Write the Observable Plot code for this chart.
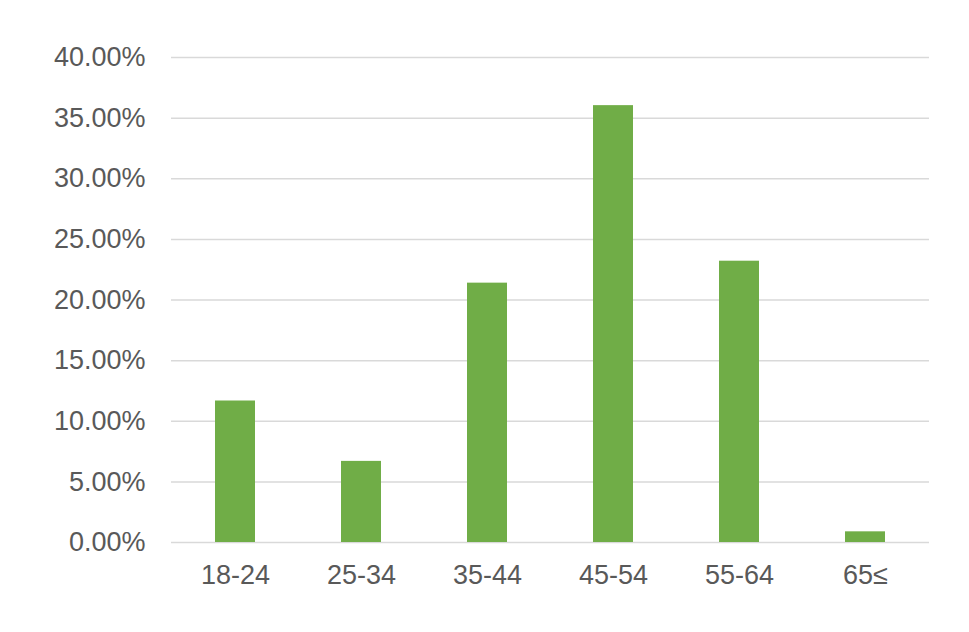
<!DOCTYPE html>
<html>
<head>
<meta charset="utf-8">
<script src="https://cdn.jsdelivr.net/npm/d3@7"></script>
<script src="https://cdn.jsdelivr.net/npm/@observablehq/plot@0.6"></script>
<style>
  html, body { margin: 0; padding: 0; background: #fff; }
  #chart svg { display: block; }
</style>
</head>
<body>
<div id="chart"></div>
<script>
const categories = ["18-24", "25-34", "35-44", "45-54", "55-64", "65≤"];
const shares = [0.1167, 0.0669, 0.2139, 0.3603, 0.2320, 0.0088];
const yTicks = [0, 0.05, 0.10, 0.15, 0.20, 0.25, 0.30, 0.35, 0.40];

const data = categories.map((c, i) => ({age: c, share: shares[i]}));

const chart = Plot.plot({
  width: 969,
  height: 632,
  marginLeft: 171,
  marginRight: 40,
  marginTop: 57,
  marginBottom: 90,
  style: {fontFamily: "'Liberation Sans', Arial, sans-serif", background: "#fff"},
  x: {domain: categories, paddingInner: 0.683, paddingOuter: 0.3415, label: null},
  y: {domain: [0, 0.4], label: null},
  marks: [
    Plot.ruleY(yTicks, {stroke: "#d9d9d9", strokeWidth: 1.5}),
    Plot.barY(data, {x: "age", y: "share", fill: "#70ad47"}),
    Plot.axisY({ticks: yTicks, tickSize: 0, tickPadding: 26, tickFormat: d => (d * 100).toFixed(2) + "%",
      fontSize: 27, fill: "#595959", label: null}),
    Plot.axisX({tickSize: 0, tickPadding: 22, fontSize: 27, fill: "#595959", label: null})
  ]
});
document.getElementById("chart").appendChild(chart);
</script>
</body>
</html>
